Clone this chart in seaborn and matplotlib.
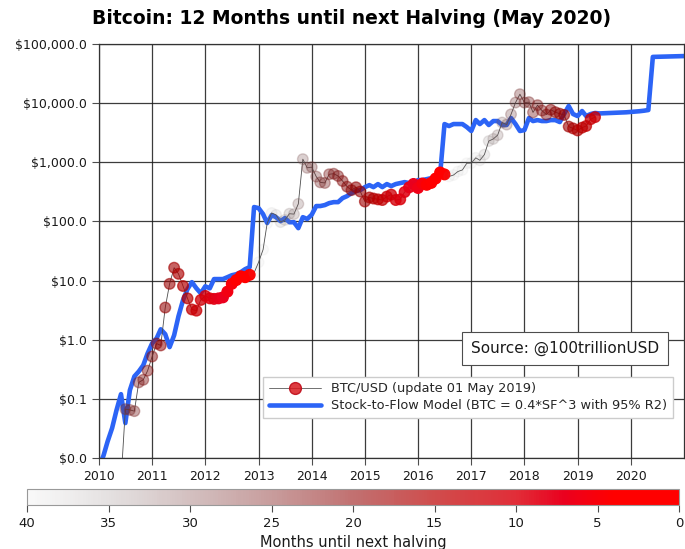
import matplotlib.pyplot as plt
import numpy as np
import pandas as pd
import seaborn as sns
from matplotlib.colors import LinearSegmentedColormap, Normalize
from matplotlib.lines import Line2D
from matplotlib.ticker import FuncFormatter, NullLocator


OUTPUT_PATH = "out.png"
TITLE = "Bitcoin: 12 Months until next Halving (May 2020)"
BLUE = "#2c64f6"

# monthly BTC close, one value per month starting Jun 2010
PRICE_START = "2010-06-01"
BTC_PRICE = [
    0.004, 0.067, 0.065, 0.062, 0.19, 0.21, 0.30,
    0.52, 0.86, 0.80, 3.5, 8.8, 16.5, 13.0, 8.1, 5.0, 3.25, 3.1, 4.7,
    5.5, 5.0, 4.9, 5.0, 5.2, 6.5, 8.8, 10.2, 11.8, 11.4, 12.5, 13.5,
    20.4, 33.4, 93.0, 139.0, 129.0, 97.5, 106.0, 135.0, 133.0, 198.0, 1130.0, 805.0,
    829.0, 573.0, 458.0, 447.0, 628.0, 640.0, 587.0, 482.0, 387.0, 338.0, 378.0, 320.0,
    217.0, 254.0, 244.0, 236.0, 230.0, 263.0, 284.0, 230.0, 236.0, 314.0, 377.0, 430.0,
    368.0, 437.0, 416.0, 448.0, 531.0, 673.0, 624.0, 575.0, 609.0, 698.0, 742.0, 963.0,
    970.0, 1190.0, 1080.0, 1348.0, 2286.0, 2480.0, 2875.0, 4703.0, 4338.0, 6468.0, 10233.0, 14156.0,
    10221.0, 10397.0, 6973.0, 9240.0, 7494.0, 6404.0, 7730.0, 7037.0, 6625.0, 6317.0, 4017.0, 3742.0,
    3457.0, 3854.0, 4105.0, 5350.0, 5800.0,
]

# stock-to-flow model, one value per month starting Jan 2010
S2F_START = "2010-01-01"
S2F_MODEL = [
    0.007, 0.011, 0.019, 0.032, 0.064, 0.12, 0.039, 0.14, 0.24, 0.29, 0.37, 0.59,
    0.87, 1.06, 1.5, 1.24, 0.75, 1.19, 2.5, 4.66, 7.2, 9.4, 7.4, 6.1,
    8.0, 7.4, 10.6, 10.6, 10.6, 11.4, 12.3, 12.8, 13.9, 15.6, 16.9, 175.0,
    168.0, 133.0, 94.0, 128.0, 118.0, 101.0, 114.0, 97.0, 97.0, 77.0, 118.0, 110.0,
    130.0, 182.0, 182.0, 189.0, 204.0, 212.0, 212.0, 248.0, 268.0, 301.0, 326.0, 339.0,
    380.0, 411.0, 380.0, 428.0, 380.0, 428.0, 396.0, 428.0, 445.0, 462.0, 445.0, 445.0,
    500.0, 500.0, 520.0, 540.0, 560.0, 630.0, 4430.0, 4100.0, 4430.0, 4430.0, 4430.0, 3940.0,
    3380.0, 5170.0, 4430.0, 5170.0, 4270.0, 4980.0, 4980.0, 4270.0, 4270.0, 5600.0, 4430.0, 3380.0,
    3500.0, 5600.0, 4980.0, 5170.0, 4980.0, 4980.0, 5170.0, 5170.0, 4790.0, 6550.0, 8940.0, 6550.0,
    6050.0, 7350.0, 6050.0, 6550.0, 6810.0, 6700.0, 6750.0, 6800.0, 6850.0, 6900.0, 6950.0, 7000.0,
    7100.0, 7200.0, 7300.0, 7450.0, 7650.0, 60500.0, 60800.0, 61000.0, 61300.0, 61600.0, 61900.0, 62200.0,
    62500.0,
]

HALVINGS = ["2012-11-28", "2016-07-09", "2020-05-11"]
YEAR_TICKS = list(range(2010, 2021))
PRICE_TICKS = [0.01, 0.1, 1, 10, 100, 1000, 10000, 100000]
CBAR_TICKS = [40, 35, 30, 25, 20, 15, 10, 5, 0]


def months_to_halving(dates):
    halvings = pd.to_datetime(HALVINGS)
    out = []
    for d in dates:
        nxt = halvings[halvings > d][0]
        out.append((nxt - d).days / 30.44)
    return np.array(out)


def make_cmap():
    # position 0 = 0 months (red), position 1 = 40 months (almost transparent)
    nodes = [
        (0.0, (1.0, 0.0, 0.0, 1.0)),
        (0.1, (1.0, 0.0, 0.0, 1.0)),
        (0.175, (0.92, 0.0, 0.12, 1.0)),
        (0.25, (0.86, 0.0, 0.05, 0.82)),
        (0.375, (0.74, 0.0, 0.0, 0.7)),
        (0.5, (0.58, 0.02, 0.02, 0.57)),
        (0.625, (0.5, 0.1, 0.1, 0.43)),
        (0.75, (0.45, 0.2, 0.2, 0.31)),
        (0.875, (0.48, 0.4, 0.4, 0.2)),
        (1.0, (0.55, 0.55, 0.55, 0.05)),
    ]
    return LinearSegmentedColormap.from_list("halving", nodes)


def main() -> None:
    price_dates = pd.date_range(PRICE_START, periods=len(BTC_PRICE), freq="MS")
    s2f_dates = pd.date_range(S2F_START, periods=len(S2F_MODEL), freq="MS")
    months = months_to_halving(price_dates)

    sns.set_theme(style="white")
    plt.rcParams["font.family"] = ["DejaVu Sans"]

    fig = plt.figure(figsize=(6.85, 5.49), dpi=100)
    ax = fig.add_axes([99 / 685, 91 / 549, 585 / 685, 414 / 549])

    sns.lineplot(x=s2f_dates, y=S2F_MODEL, color=BLUE, lw=3.3, ax=ax, zorder=2)
    sns.lineplot(x=price_dates, y=BTC_PRICE, color="0.3", lw=0.6, ax=ax, zorder=3)

    cmap = make_cmap()
    norm = Normalize(vmin=0, vmax=40)
    sc = ax.scatter(price_dates, BTC_PRICE, c=months, cmap=cmap, norm=norm,
                    s=58, linewidths=1.0, zorder=4)

    ax.set_yscale("log")
    ax.set_ylim(0.01, 100000)
    ax.set_xlim(pd.Timestamp("2010-01-01"), pd.Timestamp("2021-01-01"))
    ax.set_yticks(PRICE_TICKS)
    ax.yaxis.set_major_formatter(FuncFormatter(lambda v, _: f"${v:,.1f}"))
    ax.yaxis.set_minor_locator(NullLocator())
    ax.set_xticks([pd.Timestamp(f"{y}-01-01") for y in YEAR_TICKS])
    ax.set_xticklabels([str(y) for y in YEAR_TICKS])
    ax.set_xlabel("")
    ax.set_ylabel("")

    ax.grid(True, which="major", color="0.1", lw=0.9, alpha=0.85)
    ax.tick_params(direction="out", length=5, width=0.8, color="0.3",
                   labelsize=9, labelcolor="0.1", left=True, bottom=True)
    for spine in ax.spines.values():
        spine.set_color("0.2")
        spine.set_linewidth(0.9)

    handles = [
        Line2D([0], [0], color="0.35", lw=0.6, marker="o", markersize=8.5,
               markerfacecolor=(0.85, 0.1, 0.12, 0.85),
               markeredgecolor=(0.75, 0.05, 0.1, 0.9)),
        Line2D([0], [0], color=BLUE, lw=3.3),
    ]
    labels = [
        "BTC/USD (update 01 May 2019)",
        "Stock-to-Flow Model (BTC = 0.4*SF^3 with 95% R2)",
    ]
    leg = ax.legend(handles, labels, loc="lower right", bbox_to_anchor=(0.981, 0.0966),
                    borderaxespad=0, fontsize=9.3, handlelength=4, frameon=True,
                    fancybox=False, edgecolor="0.8", framealpha=1, borderpad=0.45,
                    labelspacing=0.3)
    leg.set_zorder(6)

    ax.text(0.797, 0.264, "Source: @100trillionUSD", transform=ax.transAxes,
            ha="center", va="center", fontsize=11, color="0.1", zorder=6,
            bbox=dict(boxstyle="square,pad=0.6", fc="white", ec="0.3", lw=0.8))

    fig.text(351.5 / 685, 1 - 18 / 549, TITLE, ha="center", va="center",
             fontsize=13.5, fontweight="bold", color="black")

    cax = fig.add_axes([27 / 685, 44 / 549, 652 / 685, 16 / 549])
    cb = fig.colorbar(sc, cax=cax, orientation="horizontal", ticks=CBAR_TICKS)
    cb.ax.invert_xaxis()
    cb.outline.set_edgecolor("0.6")
    cb.outline.set_linewidth(0.8)
    cb.ax.tick_params(labelsize=9.5, length=5, width=0.8, color="0.3", labelcolor="0.1")
    cb.set_label("Months until next halving", fontsize=10.5, color="0.1")

    fig.savefig(OUTPUT_PATH, dpi=100)


if __name__ == "__main__":
    main()
